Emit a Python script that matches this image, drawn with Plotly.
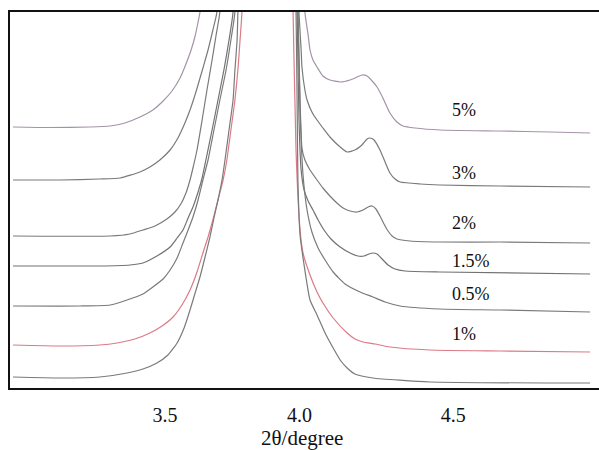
import plotly.graph_objects as go

# 2theta (degree) and intensity (a.u.); the central peak
# runs off the top of the frame, so one apex value stands in for its summit.
APEX_X = 3.883
APEX_Y = 1500

x_5 = [2.935, 3.072, 3.221, 3.296, 3.351, 3.407, 3.455, 3.493, 3.526, 3.556, 3.578, 3.597, 3.612, 3.623, 3.630,
       APEX_X,
       4.020, 4.032, 4.039, 4.050, 4.065, 4.087, 4.113, 4.151, 4.188, 4.214, 4.232, 4.251, 4.270, 4.288, 4.310,
       4.336, 4.362, 4.385, 4.429, 4.522, 4.745, 4.931, 5.080]
y_5 = [261, 260.5, 261, 262, 265, 271, 278, 287, 297, 310, 324, 338, 352, 366, 376,
       APEX_Y,
       376, 353, 338, 328, 321, 312, 308, 306, 308, 311, 313, 312, 307, 301, 290,
       275, 266, 262, 260, 258, 257, 256, 255]

x_3 = [2.935, 3.110, 3.258, 3.333, 3.407, 3.444, 3.481, 3.519, 3.548, 3.574, 3.593, 3.615, 3.641, 3.660, 3.678, 3.693,
       APEX_X,
       3.998, 4.006, 4.009, 4.020, 4.028, 4.046, 4.065, 4.087, 4.113, 4.151, 4.177, 4.206, 4.232, 4.251, 4.262,
       4.277, 4.299, 4.318, 4.336, 4.355, 4.374, 4.448, 4.522, 4.745, 5.080]
y_3 = [208, 208, 209, 210, 216, 221, 228, 238, 250, 265, 278, 296, 320, 338, 358, 376,
       APEX_Y,
       376, 338, 321, 298, 288, 276, 268, 260, 251, 241, 236, 238, 243, 249, 250,
       248, 238, 226, 215, 209, 206, 204, 203, 202, 201]

x_2 = [2.935, 3.296, 3.370, 3.418, 3.463, 3.507, 3.537, 3.559, 3.578, 3.593, 3.604, 3.619, 3.638, 3.656, 3.675, 3.690, 3.704,
       APEX_X,
       3.994, 4.002, 4.009, 4.020, 4.039, 4.065, 4.087, 4.113, 4.139, 4.162, 4.188, 4.214, 4.236, 4.255, 4.270,
       4.284, 4.299, 4.314, 4.329, 4.344, 4.362, 4.411, 4.522, 4.745, 5.080]
y_2 = [152, 152, 154, 158, 162, 169, 176, 184, 195, 208, 220, 238, 268, 298, 328, 353, 376,
       APEX_Y,
       376, 288, 240, 228, 218, 208, 200, 192, 185, 180, 177, 176, 178, 181, 182,
       179, 172, 164, 157, 152, 149, 147, 146, 146, 145]

x_15 = [2.935, 3.258, 3.370, 3.418, 3.470, 3.519, 3.545, 3.567, 3.586, 3.604, 3.623, 3.638, 3.652, 3.675, 3.697, 3.719, 3.738, 3.753,
        APEX_X,
        3.991, 3.998, 4.006, 4.017, 4.032, 4.050, 4.069, 4.091, 4.117, 4.151, 4.188, 4.217, 4.240, 4.258, 4.273,
        4.288, 4.307, 4.329, 4.355, 4.392, 4.522, 5.080]
y_15 = [122, 122, 123, 125, 132, 141, 150, 158, 170, 181, 196, 210, 228, 258, 288, 318, 348, 376,
        APEX_Y,
        376, 268, 218, 198, 187, 178, 168, 158, 149, 141, 135, 132, 132, 134, 135,
        134, 129, 123, 119, 117, 116, 114]

x_05 = [2.935, 3.184, 3.296, 3.359, 3.418, 3.455, 3.493, 3.519, 3.545, 3.567, 3.586, 3.604, 3.623, 3.641, 3.660, 3.682, 3.704, 3.727, 3.745, 3.760,
        APEX_X,
        3.994, 4.002, 4.013, 4.028, 4.046, 4.069, 4.095, 4.125, 4.169, 4.225, 4.273, 4.318, 4.374,
        4.522, 4.745, 5.080]
y_05 = [82, 82, 83, 88, 94, 101, 109, 118, 130, 145, 158, 171, 188, 208, 228, 258, 288, 318, 348, 376,
        APEX_Y,
        376, 278, 213, 178, 156, 140, 128, 116, 104, 96, 91, 86, 82,
        79, 78, 76]

x_1 = [2.935, 3.110, 3.258, 3.322, 3.388, 3.444, 3.489, 3.530, 3.563, 3.593, 3.619, 3.641, 3.660, 3.678, 3.697, 3.716, 3.730, 3.745, 3.760, 3.771, 3.779, 3.786,
       APEX_X,
       3.976, 3.987, 4.002, 4.013, 4.039, 4.065, 4.087, 4.125, 4.177, 4.206, 4.236, 4.281, 4.336, 4.485, 4.745, 5.080]
y_1 = [43, 42, 43, 45, 49, 55, 62, 71, 83, 98, 116, 135, 151, 168, 188, 208, 228, 258, 288, 318, 348, 376,
       APEX_Y,
       376, 238, 158, 135, 113, 96, 85, 70, 55, 49, 46, 44, 41, 38, 37, 36]

x_0 = [2.935, 3.110, 3.258, 3.359, 3.418, 3.470, 3.511, 3.545, 3.571, 3.593, 3.612, 3.630, 3.649, 3.667, 3.682, 3.697, 3.712, 3.723, 3.738, 3.753, 3.760, 3.768, 3.771,
       APEX_X,
       3.987, 3.991, 3.994, 4.002, 4.017, 4.039, 4.065, 4.095, 4.125, 4.151, 4.177, 4.206, 4.273, 4.485, 5.080]
y_0 = [11, 10, 11, 15, 19, 25, 33, 45, 60, 78, 95, 111, 131, 151, 170, 188, 208, 228, 258, 288, 318, 348, 376,
       APEX_Y,
       376, 288, 208, 153, 123, 88, 73, 55, 40, 28, 20, 14, 10, 6, 5]

series_names = ["5%", "3%", "2%", "1.5%", "0.5%", "1%", ""]
series_x = [x_5, x_3, x_2, x_15, x_05, x_1, x_0]
series_y = [y_5, y_3, y_2, y_15, y_05, y_1, y_0]
series_colors = ["#a393a8", "#7a7a7a", "#7a7a7a", "#727272", "#7a7a7a", "#dc7a86", "#7a7a7a"]

label_texts = ["5%", "3%", "2%", "1.5%", "0.5%", "1%"]
label_y = [278, 215, 165, 127, 94, 54]
label_x = 4.56

tick_vals = [3.5, 4.0, 4.571]
tick_text = ["3.5", "4.0", "4.5"]

fig = go.Figure()
for name, xs, ys, col in zip(series_names, series_x, series_y, series_colors):
    fig.add_trace(go.Scatter(x=xs, y=ys, mode="lines", name=name,
                             line=dict(color=col, width=1.2, shape="spline", smoothing=0.5),
                             showlegend=False, hoverinfo="skip"))

for t, yy in zip(label_texts, label_y):
    fig.add_annotation(x=label_x, y=yy, text=t, showarrow=False, xanchor="left", yanchor="middle",
                       font=dict(family="Liberation Serif", size=18, color="#111111"))

fig.add_annotation(x=0.496, y=-0.134, xref="paper", yref="paper", text="2θ/degree", showarrow=False,
                   xanchor="center", yanchor="middle",
                   font=dict(family="Liberation Serif", size=21, color="#111111"))

fig.update_layout(
    width=599, height=450,
    margin=dict(l=10, r=0, t=12, b=62),
    paper_bgcolor="white", plot_bgcolor="white",
    font=dict(family="Liberation Serif", size=20, color="#111111"),
    xaxis=dict(range=[2.924, 5.113], showgrid=False, zeroline=False,
               showline=True, linecolor="#111111", linewidth=2, mirror=True,
               ticks="", tickvals=tick_vals, ticktext=tick_text, ticklabelstandoff=8),
    yaxis=dict(range=[0, 376], showgrid=False, zeroline=False,
               showline=True, linecolor="#111111", linewidth=2,
               ticks="", showticklabels=False),
)

fig.write_html("out.html")
